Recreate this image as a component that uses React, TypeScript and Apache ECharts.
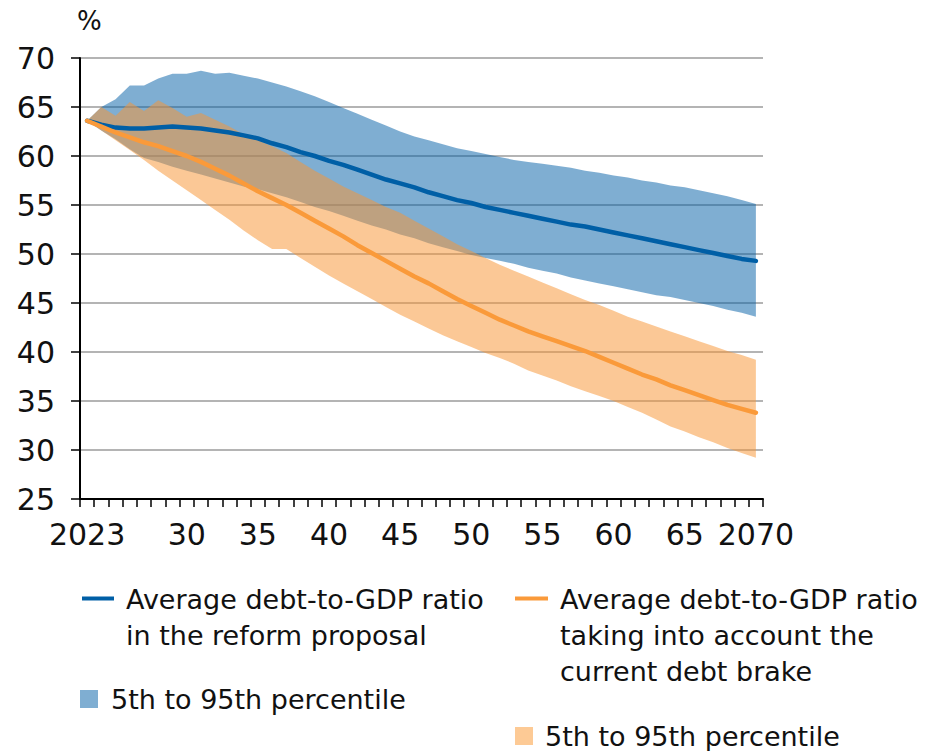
import React, { useEffect, useRef } from "react";
import * as echarts from "echarts";

// Years on the horizontal axis
const years: string[] = Array.from({ length: 48 }, (_, i) => String(2023 + i));

// Average debt-to-GDP ratio in the reform proposal (%)
const reformMean = [63.6, 63.2, 62.9, 62.8, 62.8, 62.9, 63.0, 62.9, 62.8, 62.6, 62.4, 62.1, 61.8, 61.3, 60.9, 60.4, 60.0, 59.5, 59.1, 58.6, 58.1, 57.6, 57.2, 56.8, 56.3, 55.9, 55.5, 55.2, 54.8, 54.5, 54.2, 53.9, 53.6, 53.3, 53.0, 52.8, 52.5, 52.2, 51.9, 51.6, 51.3, 51.0, 50.7, 50.4, 50.1, 49.8, 49.5, 49.3];
// Reform proposal, 95th percentile
const reformHigh = [63.6, 65.0, 65.8, 67.2, 67.2, 67.9, 68.4, 68.4, 68.7, 68.4, 68.5, 68.2, 67.9, 67.5, 67.1, 66.6, 66.1, 65.5, 64.9, 64.3, 63.7, 63.1, 62.5, 62.0, 61.6, 61.2, 60.8, 60.5, 60.2, 59.9, 59.6, 59.4, 59.2, 59.0, 58.8, 58.5, 58.3, 58.0, 57.8, 57.5, 57.3, 57.0, 56.8, 56.5, 56.2, 55.9, 55.5, 55.1];
// Reform proposal, 5th percentile
const reformLow = [63.6, 62.6, 61.7, 60.7, 59.8, 59.4, 58.9, 58.5, 58.1, 57.7, 57.3, 56.9, 56.6, 56.2, 55.8, 55.3, 54.8, 54.4, 53.9, 53.4, 52.9, 52.5, 52.0, 51.6, 51.1, 50.7, 50.3, 49.9, 49.6, 49.3, 49.0, 48.6, 48.3, 48.0, 47.6, 47.3, 47.0, 46.7, 46.4, 46.1, 45.8, 45.6, 45.3, 45.0, 44.7, 44.3, 44.0, 43.6];

// Average debt-to-GDP ratio under the current debt brake (%)
const brakeMean = [63.6, 63.0, 62.4, 61.9, 61.4, 61.0, 60.5, 60.0, 59.4, 58.7, 58.0, 57.2, 56.4, 55.7, 55.0, 54.2, 53.4, 52.6, 51.8, 50.9, 50.1, 49.3, 48.5, 47.7, 47.0, 46.2, 45.4, 44.7, 44.0, 43.3, 42.7, 42.1, 41.6, 41.1, 40.6, 40.1, 39.5, 38.9, 38.3, 37.7, 37.2, 36.6, 36.1, 35.6, 35.1, 34.6, 34.2, 33.8];
// Current debt brake, 95th percentile
const brakeHigh = [63.6, 65.0, 64.1, 65.5, 64.6, 65.7, 64.9, 64.0, 64.4, 63.7, 63.0, 62.2, 61.6, 61.0, 60.3, 59.4, 58.5, 57.7, 56.9, 56.2, 55.5, 54.8, 54.2, 53.4, 52.6, 51.8, 51.0, 50.3, 49.6, 48.9, 48.3, 47.7, 47.1, 46.5, 45.9, 45.3, 44.8, 44.2, 43.6, 43.1, 42.6, 42.1, 41.6, 41.1, 40.6, 40.1, 39.7, 39.2];
// Current debt brake, 5th percentile
const brakeLow = [63.6, 62.6, 61.6, 60.6, 59.6, 58.5, 57.5, 56.5, 55.5, 54.5, 53.5, 52.4, 51.4, 50.5, 50.5, 49.6, 48.7, 47.8, 47.0, 46.2, 45.4, 44.6, 43.8, 43.1, 42.4, 41.7, 41.1, 40.5, 39.9, 39.4, 38.8, 38.1, 37.6, 37.1, 36.5, 36.0, 35.5, 35.0, 34.4, 33.8, 33.1, 32.4, 31.9, 31.3, 30.8, 30.2, 29.7, 29.2];

const legendReform = "Average debt-to-GDP ratio\nin the reform proposal";
const legendBrake = "Average debt-to-GDP ratio\ntaking into account the\ncurrent debt brake";
const legendBand = "5th to 95th percentile";

const FONT = '"DejaVu Sans", "Liberation Sans", sans-serif';
const BLUE = "#005fa6";
const ORANGE = "#fa9a3a";
const BLUE_BAND = "rgba(0, 94, 165, 0.5)";
const ORANGE_BAND = "rgba(248, 150, 54, 0.52)";

const spread = (hi: number[], lo: number[]) => hi.map((v, i) => +(v - lo[i]).toFixed(2));

export default function App() {
  const ref = useRef<HTMLDivElement>(null);

  useEffect(() => {
    if (!ref.current) return;
    const chart = echarts.init(ref.current, null, { renderer: "svg" });

    // A percentile band: an invisible lower line plus a stacked, filled spread on top of it
    const band = (name: string, stack: string, lo: number[], hi: number[], color: string) => [
      {
        name: name + "-base",
        type: "line",
        stack,
        data: lo,
        symbol: "none",
        silent: true,
        lineStyle: { width: 0, opacity: 0 },
        z: 2,
      },
      {
        name,
        type: "line",
        stack,
        data: spread(hi, lo),
        symbol: "none",
        silent: true,
        lineStyle: { width: 0, opacity: 0 },
        areaStyle: { color, opacity: 1 },
        z: 2,
      },
    ];

    const option: any = {
      animation: false,
      grid: { left: 80, right: 164, top: 58, bottom: 252 },
      xAxis: {
        type: "category",
        data: years,
        boundaryGap: true,
        axisLine: { lineStyle: { color: "#000", width: 2 } },
        axisTick: { show: true, interval: 0, length: 8, lineStyle: { color: "#000", width: 1.5 } },
        axisLabel: {
          interval: (_i: number, v: string) => {
            const y = +v;
            return y === 2023 || (y >= 2030 && y % 5 === 0);
          },
          formatter: (v: string) => {
            const y = +v;
            return y === 2023 || y === 2070 ? v : v.slice(2);
          },
          fontFamily: FONT,
          fontSize: 30,
          color: "#111",
          margin: 20,
        },
        splitLine: { show: false },
      },
      yAxis: {
        type: "value",
        min: 25,
        max: 70,
        interval: 5,
        axisLine: { show: true, lineStyle: { color: "#000", width: 2 } },
        axisTick: { show: true, length: 9, lineStyle: { color: "#000", width: 1.5 } },
        axisLabel: { fontFamily: FONT, fontSize: 30, color: "#111", margin: 25 },
        splitLine: { lineStyle: { color: "#b4b4b4", width: 2 } },
      },
      series: [
        ...band("reform-band", "reformBand", reformLow, reformHigh, BLUE_BAND),
        ...band("brake-band", "brakeBand", brakeLow, brakeHigh, ORANGE_BAND),
        {
          name: "reform",
          type: "line",
          data: reformMean,
          symbol: "none",
          lineStyle: { color: BLUE, width: 4.5, join: "round", cap: "round" },
          z: 3,
        },
        {
          name: "brake",
          type: "line",
          data: brakeMean,
          symbol: "none",
          lineStyle: { color: ORANGE, width: 4.5, join: "round", cap: "round" },
          z: 4,
        },
      ],
      graphic: [
        {
          type: "text",
          x: 77,
          y: 21,
          style: { text: "%", fontFamily: FONT, fontSize: 26, fill: "#111", verticalAlign: "middle" },
        },
        { type: "rect", shape: { x: 82, y: 596.5, width: 32, height: 4 }, style: { fill: BLUE } },
        {
          type: "text",
          x: 126,
          y: 581,
          style: { text: legendReform, fontFamily: FONT, fontSize: 27, lineHeight: 36, fill: "#111", verticalAlign: "top" },
        },
        { type: "rect", shape: { x: 80, y: 690, width: 18, height: 18 }, style: { fill: "#7faed2" } },
        {
          type: "text",
          x: 111,
          y: 699,
          style: { text: legendBand, fontFamily: FONT, fontSize: 27, fill: "#111", verticalAlign: "middle" },
        },
        { type: "rect", shape: { x: 515, y: 596.5, width: 33, height: 4 }, style: { fill: ORANGE } },
        {
          type: "text",
          x: 560,
          y: 581,
          style: { text: legendBrake, fontFamily: FONT, fontSize: 27, lineHeight: 36, fill: "#111", verticalAlign: "top" },
        },
        { type: "rect", shape: { x: 515, y: 727, width: 18, height: 18 }, style: { fill: "#fdca95" } },
        {
          type: "text",
          x: 545,
          y: 736,
          style: { text: legendBand, fontFamily: FONT, fontSize: 27, fill: "#111", verticalAlign: "middle" },
        },
      ],
    };

    chart.setOption(option);
    return () => chart.dispose();
  }, []);

  return (
    <div
      ref={ref}
      style={{ position: "fixed", left: 0, top: 0, width: 927, height: 751, background: "#fff" }}
    />
  );
}
